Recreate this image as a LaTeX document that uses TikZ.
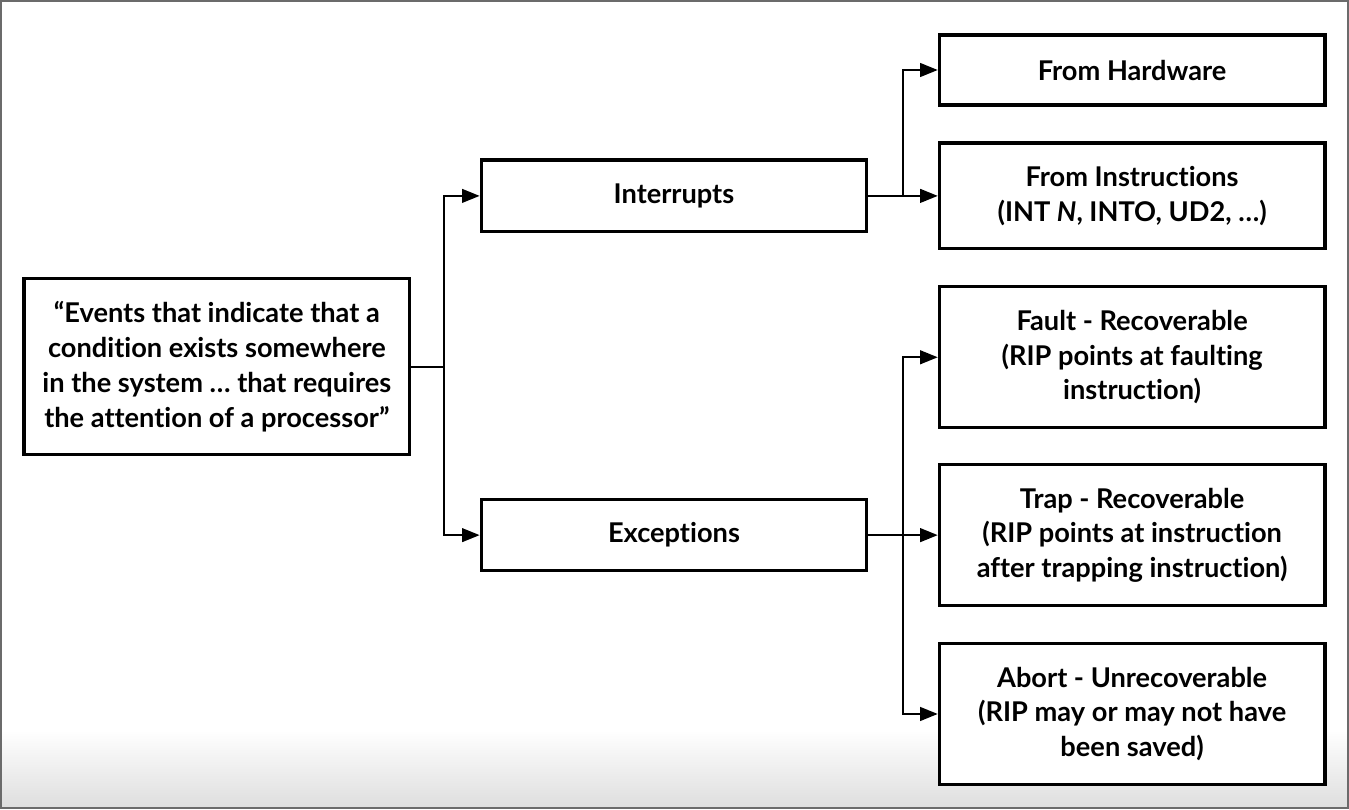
\documentclass[tikz,border=0pt]{standalone}
\usepackage{fontspec}
\setmainfont{Lato}[Ligatures={NoCommon,NoRare,NoDiscretionary}]
\usetikzlibrary{arrows.meta}
\begin{document}
\begin{tikzpicture}[x=0.02cm,y=-0.02cm,
  box/.style={draw=black,line width=1.8pt,fill=white,align=center,inner sep=0pt,
    minimum width=7.72cm,font=\bfseries\fontsize{15.5}{19.8}\selectfont},
  link/.style={line width=1.1pt,-{Triangle[length=10pt,width=7.8pt]}}]
  % frame and bottom shade
  \shade[top color=white,bottom color=black!13] (1,730) rectangle (1348,808);
  \draw[black!58,line width=1.2pt] (0.5,0.5) rectangle (1348.5,808.5);
  \useasboundingbox (0,0) rectangle (1349,809);
  % boxes
  \node[box,minimum height=3.52cm] (events) at (216.5,366.5) {“Events that indicate that a\\condition exists somewhere\\in the system … that requires\\the attention of a processor”};
  \node[box,minimum height=1.44cm] (intr) at (674,195.5) {Interrupts};
  \node[box,minimum height=1.42cm] (exc) at (674,535) {Exceptions};
  \node[box,minimum height=1.40cm] (hw) at (1132.5,69.5) {From Hardware};
  \node[box,minimum height=2.12cm] (instr) at (1132.5,195.5) {From Instructions\\(INT \textit{N}, INTO, UD2, …)};
  \node[box,minimum height=2.82cm] (fault) at (1132.5,357) {Fault - Recoverable\\(RIP points at faulting\\instruction)};
  \node[box,minimum height=2.82cm] (trap) at (1132.5,535) {Trap - Recoverable\\(RIP points at instruction\\after trapping instruction)};
  \node[box,minimum height=2.82cm] (abort) at (1132.5,714) {Abort - Unrecoverable\\(RIP may or may not have\\been saved)};
  % junctions
  \coordinate (j1) at (444,366.5);
  \coordinate (j2) at (903,195.5);
  \coordinate (j3) at (903,535);
  % connectors
  \draw[line width=1.1pt] (events.east) -- (j1);
  \draw[link] (j1) |- (intr.west);
  \draw[link] (j1) |- (exc.west);
  \draw[link] (intr.east) -- (instr.west);
  \draw[link] (j2) |- (hw.west);
  \draw[link] (exc.east) -- (trap.west);
  \draw[link] (j3) |- (fault.west);
  \draw[link] (j3) |- (abort.west);
\end{tikzpicture}
\end{document}
